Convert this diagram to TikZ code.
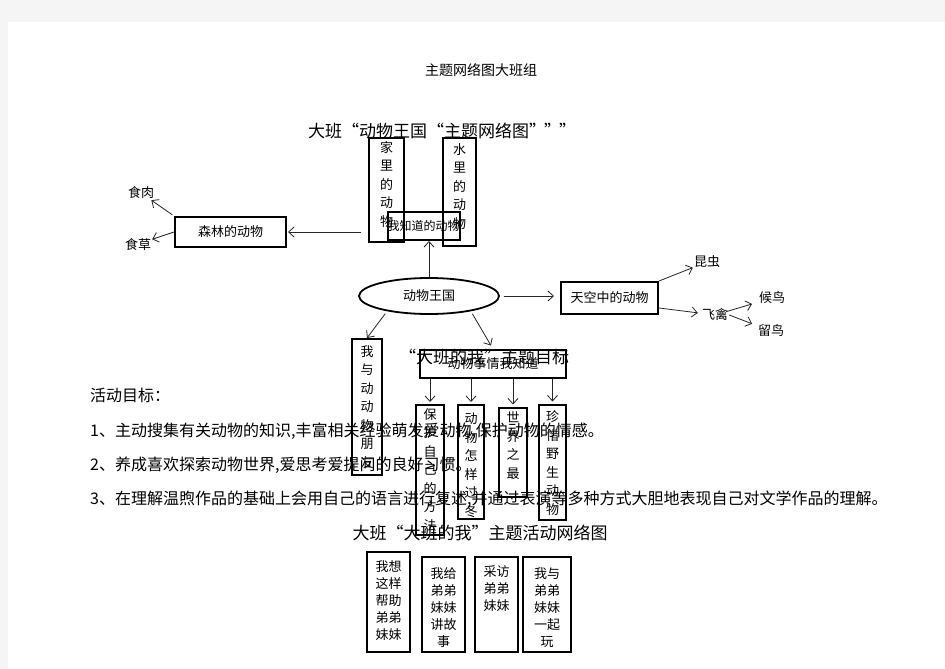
\documentclass[tikz,border=0pt]{standalone}
\usepackage{fontspec}
\setmainfont{Noto Sans CJK SC}
\usetikzlibrary{arrows.meta,%
                shapes.geometric,positioning}

\begin{document}
\begin{tikzpicture}[x=1pt,y=-1pt]
  \tikzset{BoxStyle/.style 2 args = {draw,
                                     line width     = 2pt,
                                     inner sep      = 0pt,
                                     minimum width  = #1,
                                     minimum height = #2},
           EllStyle/.style = {shape          = ellipse,
                              draw,
                              line width     = 1.8pt,
                              minimum width  = 140pt,
                              minimum height = 36pt},
           VText/.style = {font = \fontsize{13}{18.5}\selectfont, align = center, inner sep = 0pt},
           BText/.style = {font = \fontsize{13}{17.2}\selectfont, align = center, inner sep = 0pt},
           Plain/.style = {font = \fontsize{13}{15}\selectfont, inner sep = 1pt},
           Head/.style  = {font = \fontsize{17}{20}\selectfont, inner sep = 0pt},
           Body/.style  = {font = \fontsize{16}{18}\selectfont, inner sep = 0pt, anchor = west},
           Link/.style  = {-{Straight Barb[length=5.5pt,width=10pt]}, line width = 0.8pt, black!85}}
  %%% PAGE %%%
  \useasboundingbox (0,0) rectangle (945,669);
  \fill[gray!8] (0,0) rectangle (945,669);
  \fill[white] (8,22) rectangle (945,669);
  \node[font=\fontsize{14}{16}\selectfont, inner sep=0pt] (title) at (481,70) {主题网络图大班组};
  \node[Head, anchor=west] (zooT) at (308,131) {大班“动物王国“主题网络图”\kern-2pt"\kern-2pt"};
  %%% DU HAUT %%%
  \node[BoxStyle={39pt}{28pt}, font=\fontsize{12}{14}\selectfont] (know) at (423.5,226) {我知道的动物};
  \node[BoxStyle={35pt}{104pt}] (home) at (386.5,190) {};
  \node[VText, below=4pt of home.north] (homeT) {家\\里\\的\\动\\物};
  \node[BoxStyle={33pt}{108pt}] (water) at (459.5,192) {};
  \node[VText, below=6pt of water.north] (waterT) {水\\里\\的\\动\\物};
  %
  \node[BoxStyle={111pt}{30pt}, Plain] (forest) at (230.5,232) {森林的动物};
  \node[Plain] (meat) at (141,193) {食肉};
  \node[Plain] (grass) at (138,244) {食草};
  \draw[Link, shorten <=7pt, shorten >=1pt] (home.west |- forest.east) -- (forest.east);
  \draw[Link, shorten <=2pt] (forest.north west) -- (meat);
  \draw[Link] (forest.west) -- (grass);
  %%% CENTRE %%%
  \node[EllStyle, Plain] (king) at (429,296) {动物王国};
  \draw[Link] (king.north) -- (king.north |- know.south);
  \node[BoxStyle={97pt}{32pt}, Plain] (sky) at (609.5,298) {天空中的动物};
  \draw[Link, shorten <=4pt, shorten >=6pt] (king.east) -- (king.east -| sky.west);
  %%% A DROITE %%%
  \node[Plain] (insect) at (707,262) {昆虫};
  \node[Plain] (fly) at (715,315) {飞禽};
  \node[Plain] (migr) at (772,298) {候鸟};
  \node[Plain] (resid) at (771,331) {留鸟};
  \draw[Link] (sky.north east) -- (insect);
  \draw[Link, shorten >=3pt] ([yshift=-10pt]sky.east) -- (fly);
  \draw[Link, shorten <=-3pt, shorten >=6pt] (fly) -- (migr);
  \draw[Link, shorten >=5pt] (fly.east) -- (resid);
  %%% EN BAS %%%
  \node[BoxStyle={30pt}{136pt}] (friend) at (367,407) {};
  \node[VText, below=7pt of friend.north] (friendT) {我\\与\\动\\动\\物\\朋\\友};
  \draw[Link, shorten <=3pt] (king.200) -- (friend.north);
  \node[BoxStyle={146pt}{28pt}, Plain] (things) at (493,364) {动物事情我知道};
  \draw[Link, shorten <=3pt, shorten >=4pt] (king.340) -- (things.north);
  \node[Head] (goal) at (484,357) {“大班的我”主题目标};
  %
  \node[BoxStyle={28pt}{130pt}] (protect) at (430,470) {};
  \node[VText, below=4pt of protect.north] (protectT) {保\\护\\自\\己\\的\\方\\法};
  \node[BoxStyle={26pt}{114pt}] (winter) at (471,462) {};
  \node[VText, below=9pt of winter.north] (winterT) {动\\物\\怎\\样\\过\\冬};
  \node[BoxStyle={28pt}{89pt}] (world) at (513,452) {};
  \node[VText, below=5pt of world.north] (worldT) {世\\界\\之\\最};
  \node[BoxStyle={27pt}{115pt}] (treasure) at (552.5,462) {};
  \node[VText, below=7pt of treasure.north] (treasureT) {珍\\惜\\野\\生\\动\\物};
  \foreach \b in {protect,winter,world,treasure}
    \draw[Link, shorten >=2pt] (things.south -| \b.north) -- (\b.north);
  %%% OBJECTIFS %%%
  \node[Body] (aim) at (90,395) {活动目标：};
  \node[Body] (aimA) at (90,431) {1、主动搜集有关动物的知识,丰富相关经验萌发爱动物,保护动物的情感。};
  \node[Body] (aimB) at (90,465) {2、养成喜欢探索动物世界,爱思考爱提问的良好习惯。};
  \node[Body] (aimC) at (90,499) {3、在理解温煦作品的基础上会用自己的语言进行复述,并通过表演等多种方式大胆地表现自己对文学作品的理解。};
  %%% ACTIVITES %%%
  \node[Head] (meT) at (480,533) {大班“大班的我”主题活动网络图};
  \node[BoxStyle={43pt}{100pt}] (help) at (388.5,602) {};
  \node[BText, below=9pt of help.north] (helpT) {我想\\这样\\帮助\\弟弟\\妹妹};
  \node[BoxStyle={43pt}{95pt}] (story) at (443.5,604.5) {};
  \node[BText, below=11pt of story.north] (storyT) {我给\\弟弟\\妹妹\\讲故\\事};
  \node[BoxStyle={43pt}{95pt}] (visit) at (496.5,604.5) {};
  \node[BText, below=9pt of visit.north] (visitT) {采访\\弟弟\\妹妹};
  \node[BoxStyle={48pt}{95pt}] (play) at (547,604.5) {};
  \node[BText, below=11pt of play.north] (playT) {我与\\弟弟\\妹妹\\一起\\玩};
\end{tikzpicture}
\end{document}
